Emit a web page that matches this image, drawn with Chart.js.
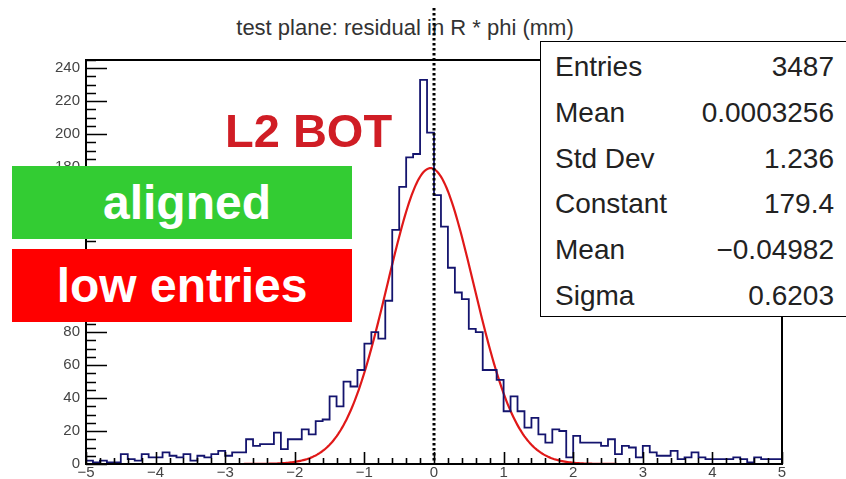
<!DOCTYPE html>
<html>
<head>
<meta charset="utf-8">
<script src="https://cdn.jsdelivr.net/npm/chart.js@4.4.1/dist/chart.umd.min.js"></script>
<style>
  html, body { margin: 0; padding: 0; background: #fff; }
  #wrap { position: relative; width: 846px; height: 479px; overflow: hidden; font-family: "Liberation Sans", Arial, sans-serif; }
  #title { position: absolute; left: 0; width: 810px; top: 17px; line-height: 22px; text-align: center; font-size: 22px; color: #333; z-index: 0; }
  #plot { position: absolute; left: 0; top: 0; z-index: 1; }
  .tag { position: absolute; z-index: 2; font-weight: bold; font-size: 47px; line-height: 47px; }
  #det { left: 225px; top: 107px; color: #d01d25; }
  .badge { left: 12px; width: 340px; height: 73px; color: #fff; display: flex; align-items: center; justify-content: center; box-sizing: border-box; font-size: 48px; }
  #ok { top: 166px; background: #33cc33; padding-left: 10px; }
  #warn { top: 249px; background: #ff0000; }
  #stats { position: absolute; z-index: 2; left: 540px; top: 41px; width: 330px; height: 276px; background: #fff; border: 1.5px solid #000; box-sizing: border-box; padding-top: 2px; }
  #stats .row { height: 45.8px; line-height: 45.8px; font-size: 28px; color: #222; }
  #stats .k { position: absolute; left: 14px; }
  #stats .v { position: absolute; left: 0; width: 293px; text-align: right; }
</style>
</head>
<body>
<div id="wrap">
  <div id="title"></div>
  <canvas id="plot" width="846" height="479"></canvas>
  <div class="tag" id="det"></div>
  <div class="tag badge" id="ok"></div>
  <div class="tag badge" id="warn"></div>
  <div id="stats"></div>
</div>
<script>
// residual histogram, 100 bins between -5 and 5 mm
const binCounts = [
  0, 2, 1, 2, 1, 1, 6, 3, 2, 6,
  4, 4, 7, 5, 4, 6, 2, 5, 4, 6,
  8, 5, 7, 7, 15, 11, 12, 12, 19, 9,
  15, 15, 21, 18, 26, 27, 41, 35, 50, 47,
  57, 73, 80, 76, 99, 142, 168, 186, 188, 233,
  201, 163, 144, 119, 104, 100, 82, 80, 57, 57,
  51, 32, 41, 32, 22, 28, 18, 13, 21, 20,
  4, 17, 13, 13, 13, 11, 15, 6, 11, 10,
  4, 11, 7, 5, 5, 8, 3, 4, 7, 4,
  3, 3, 3, 3, 4, 3, 1, 4, 3, 3
];
const xRange = [-5, 5];
const yRange = [0, 245];
const xTicks = [-5, -4, -3, -2, -1, 0, 1, 2, 3, 4, 5];
const yTicks = [0, 20, 40, 60, 80, 100, 120, 140, 160, 180, 200, 220, 240];

// gaussian fit result
const fitConstant = 179.4;
const fitMean = -0.04982;
const fitSigma = 0.6203;

const statsLabels = ['Entries', 'Mean', 'Std Dev', 'Constant', 'Mean', 'Sigma'];
const statsValues = ['3487', '0.0003256', '1.236', '179.4', '\u22120.04982', '0.6203'];

const titleText = 'test plane: residual in R * phi (mm)';
const detectorLabel = 'L2 BOT';
const statusLabels = ['aligned', 'low entries'];

document.getElementById('title').textContent = titleText;
document.getElementById('det').textContent = detectorLabel;
document.getElementById('ok').textContent = statusLabels[0];
document.getElementById('warn').textContent = statusLabels[1];
document.getElementById('stats').innerHTML = statsLabels
  .map((k, i) => `<div class="row"><span class="k">${k}</span><span class="v">${statsValues[i]}</span></div>`)
  .join('');

const binWidth = (xRange[1] - xRange[0]) / binCounts.length;
const histPoints = binCounts.map((v, i) => ({ x: xRange[0] + i * binWidth, y: v }));
histPoints.push({ x: xRange[1], y: binCounts[binCounts.length - 1] });

const fitPoints = [];
for (let i = 0; i <= 500; i++) {
  const x = xRange[0] + i * (xRange[1] - xRange[0]) / 500;
  fitPoints.push({ x, y: fitConstant * Math.exp(-0.5 * Math.pow((x - fitMean) / fitSigma, 2)) });
}

const minus = (v) => (v < 0 ? '\u2212' + Math.abs(v) : String(v));

// frame, inward ticks and the dotted line at zero
const framePlugin = {
  id: 'frame',
  afterDatasetsDraw(chart) {
    const { ctx, chartArea: a, scales } = chart;
    const xs = scales.x, ys = scales.y;
    ctx.save();
    ctx.strokeStyle = '#000';
    ctx.lineWidth = 2;
    ctx.strokeRect(a.left, a.top, a.right - a.left, a.bottom - a.top);

    ctx.lineWidth = 1.6;
    ctx.beginPath();
    for (let k = 0; k <= 50; k++) {
      const v = xRange[0] + k * 0.2;
      const px = Math.round(xs.getPixelForValue(v)) + 0.5;
      const len = k % 5 === 0 ? 12 : 6;
      ctx.moveTo(px, a.bottom);
      ctx.lineTo(px, a.bottom - len);
    }
    for (let v = yRange[0]; v <= yRange[1]; v += 5) {
      const py = Math.round(ys.getPixelForValue(v)) + 0.5;
      const len = v % 20 === 0 ? 21 : 10;
      ctx.moveTo(a.left, py);
      ctx.lineTo(a.left + len, py);
    }
    ctx.stroke();

    const zx = Math.round(xs.getPixelForValue(0));
    ctx.lineWidth = 3;
    ctx.setLineDash([2.5, 2.5]);
    ctx.beginPath();
    ctx.moveTo(zx, 8);
    ctx.lineTo(zx, a.bottom);
    ctx.stroke();
    ctx.restore();
  }
};

const tickFont = { family: '"Liberation Sans", Arial, sans-serif', size: 15 };

new Chart(document.getElementById('plot'), {
  type: 'line',
  data: {
    datasets: [
      {
        data: histPoints,
        stepped: 'after',
        borderColor: '#14146e',
        borderWidth: 1.8,
        pointRadius: 0,
        fill: false,
      },
      {
        data: fitPoints,
        borderColor: '#e01818',
        borderWidth: 2.2,
        pointRadius: 0,
        tension: 0,
        fill: false,
      },
    ],
  },
  options: {
    responsive: false,
    animation: false,
    devicePixelRatio: 1,
    layout: { padding: { top: 60, right: 64, left: 0, bottom: 0 } },
    plugins: { legend: { display: false }, tooltip: { enabled: false } },
    scales: {
      x: {
        type: 'linear',
        min: xRange[0],
        max: xRange[1],
        afterBuildTicks: (s) => { s.ticks = xTicks.map((v) => ({ value: v })); },
        afterFit: (s) => { s.height = 14; },
        grid: { display: false, drawTicks: false },
        border: { display: false },
        ticks: { font: tickFont, color: '#444', padding: 0, maxRotation: 0, autoSkip: false, callback: minus },
      },
      y: {
        min: yRange[0],
        max: yRange[1],
        afterBuildTicks: (s) => { s.ticks = yTicks.map((v) => ({ value: v })); },
        afterFit: (s) => { s.width = 86; },
        grid: { display: false, drawTicks: false },
        border: { display: false },
        ticks: { font: tickFont, color: '#444', padding: 6, autoSkip: false },
      },
    },
  },
  plugins: [framePlugin],
});
</script>
</body>
</html>
